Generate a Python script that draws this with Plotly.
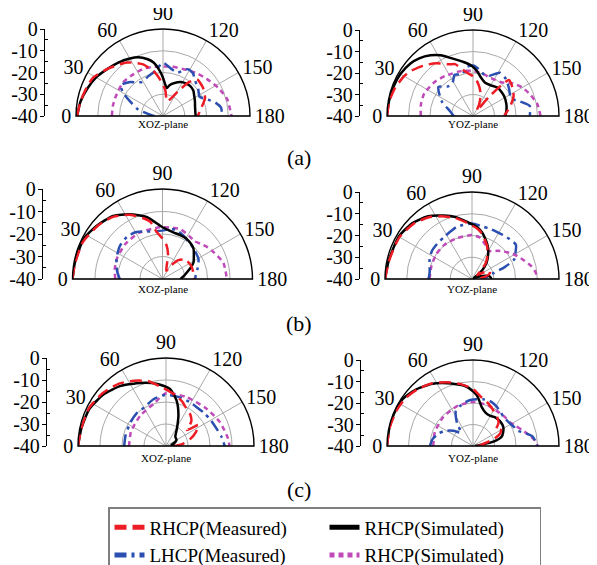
import plotly.graph_objects as go

# ---------------- data (theta in degrees, gain in dB) ----------------
# (a) XOZ-plane
A_XOZ_RM_T = [0, 10, 20, 29, 42, 56, 69, 80, 85, 95, 105, 112, 122, 128, 133, 145, 157, 168, 180]
A_XOZ_RM_V = [-0.5, -1.5, -2.5, -3.4, -7, -10.3, -14.6, -20, -23, -28, -33, -32, -26, -20, -17, -17.5, -19, -22, -24]
A_XOZ_RS_T = [0, 10, 20, 30, 40, 50, 60, 67, 75, 80, 85, 90, 95, 98, 102, 108, 118, 125, 132, 140, 147, 155, 163, 172, 180]
A_XOZ_RS_V = [-0.5, -1.5, -3, -4.5, -6.5, -8, -9.5, -10.6, -13, -15, -18.5, -22.4, -26, -27, -25.5, -24.2, -22.3, -21.7, -21.4, -21.8, -22.9, -23.8, -24.6, -25, -25]
A_XOZ_LM_T = [0, 8, 15, 23, 30, 36, 45, 58, 70, 80, 90, 100, 108, 118, 125, 132, 142, 152, 160, 166, 172, 180]
A_XOZ_LM_V = [-36, -33, -28, -24, -19, -16, -18, -21.6, -20.5, -19, -15.5, -18, -19, -15.6, -16, -18, -19.5, -21, -18, -15, -13, -13]
A_XOZ_LS_T = [0, 12, 23, 40, 55, 68, 80, 90, 100, 113, 128, 140, 153, 165, 180]
A_XOZ_LS_V = [-16.5, -16.5, -16.5, -16, -16.5, -16.5, -17, -17.3, -17, -16.5, -15, -13.6, -11.5, -9.5, -8.5]

# (a) YOZ-plane
A_YOZ_RM_T = [0, 10, 20, 30, 35, 45, 55, 65, 71, 81, 90, 95, 102, 110, 118, 125, 130, 135, 145, 154, 165, 180]
A_YOZ_RM_V = [0, -0.5, -1.5, -3, -4, -7, -10, -13.5, -14.5, -19.3, -21.5, -23, -26, -29.5, -34, -37, -28, -16.3, -17.5, -19, -22, -25.5]
A_YOZ_RS_T = [0, 10, 20, 30, 40, 47, 55, 62, 70, 80, 88, 95, 101, 110, 120, 132, 147, 160, 170, 180]
A_YOZ_RS_V = [0, -0.3, -0.6, -1, -2, -3.3, -5.5, -8, -11.5, -14.5, -16.5, -19, -21.5, -23.5, -23.5, -22.5, -22.8, -23.5, -24.2, -25]
A_YOZ_LM_T = [0, 12, 25, 40, 50, 58, 66, 75, 83, 90, 97, 105, 112, 122, 132, 143, 155, 163, 170, 180]
A_YOZ_LM_V = [-31, -29, -24, -19, -22, -22, -19, -20, -17, -16.5, -18, -20, -19.8, -16.3, -17, -19, -20.5, -17, -13.2, -13.6]
A_YOZ_LS_T = [0, 12, 25, 42, 55, 64, 73, 90, 105, 116, 130, 141, 150, 160, 170, 180]
A_YOZ_LS_V = [-15.7, -15.2, -15, -16.2, -17.3, -18, -18.3, -19, -20, -20.5, -19.5, -16, -13.5, -11.5, -9.5, -8.6]

# (b) XOZ-plane
B_XOZ_RM_T = [0, 10, 25, 40, 52, 63, 72, 78, 83, 90, 97, 103, 108, 115, 122, 130, 138, 143, 155, 165, 180]
B_XOZ_RM_V = [0, -0.5, -1, -2.8, -4.8, -8, -11.5, -14, -19, -22, -25, -29, -34, -36, -33, -29, -27, -26.5, -26, -26, -26]
B_XOZ_RS_T = [0, 11, 27, 39, 52, 63, 76, 90, 103, 112, 121, 130, 136, 145, 152, 158, 165, 172, 180]
B_XOZ_RS_V = [0, -0.4, -0.7, -2.4, -4.4, -7.7, -11.7, -17, -18.7, -19, -19.2, -20, -20.8, -23, -24.4, -26.5, -28.8, -30.5, -32]
B_XOZ_LM_T = [0, 10, 25, 38, 50, 60, 70, 80, 90, 97, 105, 115, 130, 140, 151, 162, 172, 180]
B_XOZ_LM_V = [-21, -19.5, -17.5, -16, -15.5, -16, -17.5, -18.5, -18.5, -17.8, -17.3, -18.5, -20.2, -21, -21.7, -23.5, -25, -25.5]
B_XOZ_LS_T = [0, 12, 24, 43, 64, 87, 100, 110, 122, 130, 137, 145, 152, 165, 180]
B_XOZ_LS_V = [-19, -18.3, -17.8, -17.3, -17, -17, -16.8, -16.5, -17.5, -18, -17, -15.5, -14.4, -12, -11.4]

# (b) YOZ-plane
B_YOZ_RM_T = [0, 13, 30, 43, 55, 66, 75, 82, 95, 102, 108, 115, 122, 130, 137, 143, 150, 158, 165, 172, 180]
B_YOZ_RM_V = [0, -1, -1.5, -3, -5.3, -8.5, -11, -13.3, -16.5, -18.5, -21, -23.5, -26.5, -30, -34, -37, -34, -31, -32, -35, -38]
B_YOZ_RS_T = [0, 13, 30, 43, 55, 66, 75, 82, 95, 102, 108, 115, 122, 132, 140, 146, 152, 160, 167, 172, 180]
B_YOZ_RS_V = [0, -0.8, -1.1, -2.4, -4.8, -8.1, -10.5, -12.8, -15.9, -18, -20.4, -23, -25.9, -30, -34, -37.3, -39, -37, -33.5, -31.7, -31]
B_YOZ_LM_T = [0, 9, 25, 35, 46, 57, 66, 74, 90, 102, 110, 117, 130, 142, 150, 155, 160, 165, 172, 180]
B_YOZ_LM_V = [-20, -20.3, -18.5, -17.5, -17.2, -16.8, -16, -15, -14.5, -15.4, -15.5, -15.5, -15, -14.4, -17, -18.5, -24, -30, -33, -35]
B_YOZ_LS_T = [0, 18, 35, 51, 70, 90, 100, 104, 114, 118, 125, 132, 138, 148, 159, 168, 174, 180]
B_YOZ_LS_V = [-20.5, -20.4, -20, -19.8, -20, -19.8, -20.5, -21.5, -23.6, -24.8, -24.5, -22.5, -21, -18, -15, -12, -10.6, -10]

# (c) XOZ-plane
C_XOZ_RM_T = [0, 12, 26, 40, 53, 64, 75, 86, 93, 100, 110, 119, 128, 136, 143, 147, 155, 164, 172, 180]
C_XOZ_RM_V = [0, -0.7, -1, -2.5, -4.5, -7, -9.5, -13.3, -15, -16.4, -18.5, -20.7, -22, -24, -28, -22.5, -25, -28.6, -32, -36]
C_XOZ_RS_T = [0, 12, 26, 40, 53, 68, 82, 94, 103, 112, 122, 135, 150, 160, 170, 180]
C_XOZ_RS_V = [0, -0.7, -1.3, -3.3, -5.8, -9.1, -11.5, -14, -18.7, -24.9, -30.6, -34, -34.5, -36, -37.5, -36]
C_XOZ_LM_T = [0, 15, 34, 48, 61, 75, 89, 105, 119, 130, 140, 150, 161, 170, 180]
C_XOZ_LM_V = [-21, -21, -20.6, -20, -19.8, -18, -16.8, -17, -17.3, -17.5, -17, -16.5, -15.7, -14.5, -13.3]
C_XOZ_LS_T = [0, 22, 50, 74, 90, 113, 137, 156, 173, 180]
C_XOZ_LS_V = [-23.2, -22.8, -21.9, -20, -16, -15.9, -15, -13.2, -11.6, -11.1]

# (c) YOZ-plane
C_YOZ_RM_T = [0, 12, 25, 35, 45, 56, 68, 80, 90, 100, 110, 120, 130, 138, 145, 150, 155, 160, 165, 170, 175, 180]
C_YOZ_RM_V = [0, -0.3, -0.8, -1.5, -3, -5, -8, -11, -13.5, -17, -19, -21, -22.5, -24, -27, -25, -26, -29, -33, -36, -34, -38]
C_YOZ_RS_T = [0, 12, 22, 33, 44, 56, 68, 82, 90, 95, 103, 111, 120, 127, 134, 141, 148, 155, 162, 168, 172, 180]
C_YOZ_RS_V = [0, -0.2, -0.3, -0.6, -2.5, -5.2, -8.5, -11.7, -14.5, -16.7, -21.6, -23.5, -23.8, -23.2, -23, -23, -23.4, -24.5, -26, -30.3, -36.5, -39]
C_YOZ_LM_T = [0, 10, 20, 28, 38, 48, 55, 64, 72, 79, 88, 95, 102, 110, 120, 130, 137, 147, 155, 160, 166, 171, 180]
C_YOZ_LM_V = [-20, -21, -23, -25, -28.5, -31.7, -27, -21.8, -20.5, -19.4, -18.5, -18.2, -17.8, -17.6, -18.5, -19.8, -20.4, -20, -19, -18.6, -15, -11.9, -10]
C_YOZ_LS_T = [0, 20, 44, 69, 90, 110, 124, 137, 147, 155, 162, 170, 176, 180]
C_YOZ_LS_V = [-21.5, -21.1, -20.7, -20, -19.5, -19.8, -20.3, -20, -19.6, -18, -16, -13, -10.7, -10]

ANGLE_TICKS = [0, 30, 60, 90, 120, 150, 180]
DB_TICKS = [-40, -30, -20, -10, 0]
DB_TICK_TEXT = ["-40", "-30", "-20", "-10", "0"]
DB_MINOR = [-35, -25, -15, -5]
PLANE_LABELS = ["XOZ-plane", "YOZ-plane"]
ROW_LABELS = ["(a)", "(b)", "(c)"]
SERIES_NAMES = ["RHCP(Measured)", "RHCP(Simulated)", "LHCP(Measured)", "RHCP(Simulated)"]

# ---------------- layout geometry (page pixels) ----------------
PAGE_W, PAGE_H = 597, 565
OFF = 8                      # default page margin around the figure
W, H = PAGE_W - OFF, PAGE_H - OFF
FONT = "Times New Roman, Liberation Serif, serif"

# (center_x, center_y, radius, left-axis x) in page pixels
PANELS = [
    (163, 116, 87, 45), (473, 116, 86, 360),
    (162.5, 279, 90, 43), (472, 279, 87, 360),
    (166, 446, 88, 47), (473, 446, 86, 361),
]
PANEL_DATA = [
    [(A_XOZ_RM_T, A_XOZ_RM_V), (A_XOZ_RS_T, A_XOZ_RS_V), (A_XOZ_LM_T, A_XOZ_LM_V), (A_XOZ_LS_T, A_XOZ_LS_V)],
    [(A_YOZ_RM_T, A_YOZ_RM_V), (A_YOZ_RS_T, A_YOZ_RS_V), (A_YOZ_LM_T, A_YOZ_LM_V), (A_YOZ_LS_T, A_YOZ_LS_V)],
    [(B_XOZ_RM_T, B_XOZ_RM_V), (B_XOZ_RS_T, B_XOZ_RS_V), (B_XOZ_LM_T, B_XOZ_LM_V), (B_XOZ_LS_T, B_XOZ_LS_V)],
    [(B_YOZ_RM_T, B_YOZ_RM_V), (B_YOZ_RS_T, B_YOZ_RS_V), (B_YOZ_LM_T, B_YOZ_LM_V), (B_YOZ_LS_T, B_YOZ_LS_V)],
    [(C_XOZ_RM_T, C_XOZ_RM_V), (C_XOZ_RS_T, C_XOZ_RS_V), (C_XOZ_LM_T, C_XOZ_LM_V), (C_XOZ_LS_T, C_XOZ_LS_V)],
    [(C_YOZ_RM_T, C_YOZ_RM_V), (C_YOZ_RS_T, C_YOZ_RS_V), (C_YOZ_LM_T, C_YOZ_LM_V), (C_YOZ_LS_T, C_YOZ_LS_V)],
]
LABEL_Y = [124, 124, 289, 289, 458, 458]
ROW_LABEL_Y = [157, 323, 489]

STYLES = [
    dict(color="#ee1c25", width=2.5, dash="12px,6px"),          # RHCP measured
    dict(color="#000000", width=2.5, dash="solid"),             # RHCP simulated
    dict(color="#2a4fb0", width=2.5, dash="12px,5px,3px,5px"),  # LHCP measured
    dict(color="#c04ab8", width=2.5, dash="5px,4px"),           # RHCP simulated (2)
]
DRAW_ORDER = [3, 2, 1, 0]


def px(x):
    return (x - OFF) / W


def py(y):
    return 1 - (y - OFF) / H


fig = go.Figure()
layout = dict(
    template="none",
    width=W, height=H,
    margin=dict(l=0, r=0, t=0, b=0, autoexpand=False),
    paper_bgcolor="white", plot_bgcolor="white",
    font=dict(family=FONT, color="black"),
    showlegend=True,
    annotations=[],
)

n = len(PANELS)
for i, (cx, cy, R, ax_x) in enumerate(PANELS):
    k = "" if i == 0 else str(i + 1)
    km = str(i + 1 + n)
    pname = "polar" + k
    layout[pname] = dict(
        domain=dict(x=[px(cx - R), px(cx + R)], y=[py(cy), py(cy - R)]),
        sector=[0, 180],
        bgcolor="white",
        angularaxis=dict(
            rotation=180, direction="clockwise",
            tickmode="array", tickvals=[a - 360 for a in ANGLE_TICKS],
            ticktext=[str(a) for a in ANGLE_TICKS],
            showticklabels=True, showgrid=True,
            tickfont=dict(size=20, family=FONT, color="black"),
            showline=True, linecolor="black", linewidth=1.4,
            gridcolor="#a8a8a8", gridwidth=1, ticks="",
        ),
        radialaxis=dict(
            range=[-40, 0], tickvals=[-30, -20, -10],
            showticklabels=False, ticks="", showline=False,
            gridcolor="#a8a8a8", gridwidth=1,
        ),
    )
    for s in DRAW_ORDER:
        t, v = PANEL_DATA[i][s]
        st = STYLES[s]
        fig.add_trace(go.Scatterpolar(
            theta=t, r=v, mode="lines", subplot=pname,
            name=SERIES_NAMES[s], legendrank=s + 1,
            showlegend=(i == 0),
            line=dict(color=st["color"], width=st["width"], dash=st["dash"],
                      shape="spline", smoothing=0.6),
            hoverinfo="skip",
        ))
    # left dB scale as a cartesian axis (major ticks outside, minor inside)
    layout["xaxis" + k] = dict(domain=[px(ax_x), px(ax_x) + 0.004], visible=False,
                               range=[0, 1], anchor="y" + k, fixedrange=True)
    layout["yaxis" + k] = dict(
        domain=[py(cy), py(cy - R)], range=[-40, 0], anchor="x" + k,
        side="left", showline=True, linecolor="black", linewidth=1.3,
        ticks="outside", ticklen=4, tickwidth=1.3, tickcolor="black",
        tickmode="array", tickvals=DB_TICKS, ticktext=DB_TICK_TEXT,
        ticklabelstandoff=-2,
        tickfont=dict(size=20, family=FONT, color="black"),
        showgrid=False, zeroline=False, fixedrange=True, automargin=False,
    )
    layout["yaxis" + km] = dict(
        overlaying="y" + k, anchor="x" + k, side="left", range=[-40, 0],
        tickmode="array", tickvals=DB_MINOR, showticklabels=False,
        ticks="inside", ticklen=3, tickwidth=1.1, tickcolor="black",
        showline=False, showgrid=False, zeroline=False, fixedrange=True,
    )
    fig.add_trace(go.Scatter(x=[None], y=[None], xaxis="x" + k, yaxis="y" + k,
                             showlegend=False, hoverinfo="skip"))
    fig.add_trace(go.Scatter(x=[None], y=[None], xaxis="x" + k, yaxis="y" + km,
                             showlegend=False, hoverinfo="skip"))
    layout["annotations"].append(dict(
        text=PLANE_LABELS[i % 2], x=px(cx), y=py(LABEL_Y[i]), xref="paper", yref="paper",
        showarrow=False, xanchor="center", yanchor="middle",
        font=dict(size=11, family=FONT, color="black"),
    ))

for j, lab in enumerate(ROW_LABELS):
    layout["annotations"].append(dict(
        text=lab, x=px(PAGE_W / 2), y=py(ROW_LABEL_Y[j]), xref="paper", yref="paper",
        showarrow=False, xanchor="center", yanchor="middle",
        font=dict(size=22, family=FONT, color="black"),
    ))

layout["legend"] = dict(
    orientation="h", x=px(108), y=py(507), xanchor="left", yanchor="top",
    xref="container", yref="container",
    entrywidth=170, entrywidthmode="pixels",
    bordercolor="#7f7f7f", borderwidth=1.5, bgcolor="white",
    font=dict(size=19, family=FONT, color="black"),
    traceorder="normal", itemsizing="constant",
)

fig.update_layout(**layout)
fig.write_html("out.html")
